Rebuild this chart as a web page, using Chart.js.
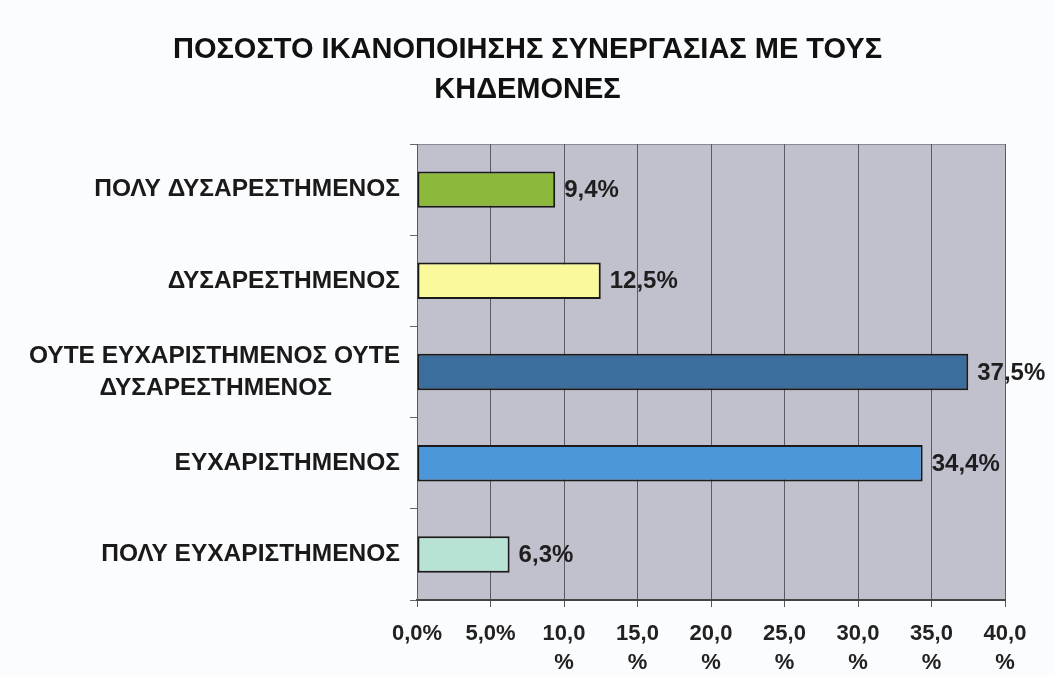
<!DOCTYPE html>
<html>
<head>
<meta charset="utf-8">
<script src="https://cdn.jsdelivr.net/npm/chart.js@4.4.1/dist/chart.umd.min.js"></script>
<style>
  html, body { margin: 0; padding: 0; background: #fbfcfe; }
  #wrap { width: 1055px; height: 676px; }
</style>
</head>
<body>
<div id="wrap"><canvas id="myChart" width="1055" height="676"></canvas></div>
<script>
// data
var categories = [
  "ΠΟΛΥ ΔΥΣΑΡΕΣΤΗΜΕΝΟΣ",
  "ΔΥΣΑΡΕΣΤΗΜΕΝΟΣ",
  ["ΟΥΤΕ ΕΥΧΑΡΙΣΤΗΜΕΝΟΣ ΟΥΤΕ", "ΔΥΣΑΡΕΣΤΗΜΕΝΟΣ\u00a0\u00a0\u00a0\u00a0\u00a0\u00a0\u00a0\u00a0\u00a0\u00a0"],
  "ΕΥΧΑΡΙΣΤΗΜΕΝΟΣ",
  "ΠΟΛΥ ΕΥΧΑΡΙΣΤΗΜΕΝΟΣ"
];
var percents = [9.4, 12.5, 37.5, 34.4, 6.3];
var barColors = ["#8cb83c", "#fafa9c", "#3b6d9d", "#4c97d9", "#b8e2d3"];
var tickLabels = ["0,0%", "5,0%", ["10,0", "%"], ["15,0", "%"], ["20,0", "%"], ["25,0", "%"], ["30,0", "%"], ["35,0", "%"], ["40,0", "%"]];
var titleLines = ["ΠΟΣΟΣΤΟ ΙΚΑΝΟΠΟΙΗΣΗΣ ΣΥΝΕΡΓΑΣΙΑΣ ΜΕ ΤΟΥΣ", "ΚΗΔΕΜΟΝΕΣ"];

var FONT = "'Liberation Sans', Arial, sans-serif";

// grey plot background + frame
var plotBg = {
  id: "plotBg",
  beforeDraw: function(chart) {
    var a = chart.chartArea, c = chart.ctx;
    c.save();
    c.fillStyle = "#c0c1cd";
    c.fillRect(a.left, a.top, a.right - a.left, a.bottom - a.top);
    c.strokeStyle = "#8a8a92";
    c.lineWidth = 1;
    c.strokeRect(a.left + 0.5, a.top + 0.5, a.right - a.left, a.bottom - a.top);
    c.restore();
  }
};

// value labels at the bar ends
var barText = {
  id: "barText",
  afterDatasetsDraw: function(chart) {
    var c = chart.ctx;
    var meta = chart.getDatasetMeta(0);
    c.save();
    c.font = "bold 24px " + FONT;
    c.fillStyle = "#1e1e1e";
    c.textAlign = "left";
    c.textBaseline = "middle";
    meta.data.forEach(function(bar, i) {
      var t = percents[i].toFixed(1).replace(".", ",") + "%";
      c.fillText(t, bar.x + 9, bar.y + 1);
    });
    c.restore();
  }
};

new Chart("myChart", {
  type: "bar",
  data: {
    labels: categories,
    datasets: [{
      data: percents,
      backgroundColor: barColors,
      borderColor: "#1a1a1a",
      borderWidth: 2,
      borderSkipped: false,
      barPercentage: 0.4,
      categoryPercentage: 1
    }]
  },
  plugins: [plotBg, barText],
  options: {
    indexAxis: "y",
    responsive: false,
    animation: false,
    layout: { padding: 0 },
    plugins: {
      legend: { display: false },
      tooltip: { enabled: false },
      title: {
        display: true,
        text: titleLines,
        color: "#111",
        font: { family: FONT, size: 29, weight: "bold", lineHeight: 1.38 },
        padding: { top: 30, bottom: 34 }
      }
    },
    scales: {
      x: {
        min: 0,
        max: 40,
        ticks: {
          stepSize: 5,
          color: "#222",
          padding: 12,
          maxRotation: 0,
          font: { family: FONT, size: 22, weight: "bold", lineHeight: 1.32 },
          callback: function(v, i) { return tickLabels[i]; }
        },
        grid: { color: "#5a5a62", lineWidth: 1, tickLength: 7, tickColor: "#555" },
        border: { color: "#444", width: 2 },
        afterFit: function(s) { s.height = 76; }
      },
      y: {
        ticks: {
          color: "#1a1a1a",
          padding: 10,
          font: { family: FONT, size: 24.5, weight: "bold", lineHeight: 1.3 }
        },
        grid: { offset: true, drawOnChartArea: false, tickLength: 7, tickColor: "#666" },
        border: { color: "#5a5a62" },
        afterFit: function(s) { s.width = 417; }
      },
      // empty right strip so the title stays centred on the page
      yRight: {
        position: "right",
        display: true,
        grid: { display: false },
        ticks: { display: false },
        border: { display: false },
        afterFit: function(s) { s.width = 50; }
      }
    }
  }
});
</script>
</body>
</html>
